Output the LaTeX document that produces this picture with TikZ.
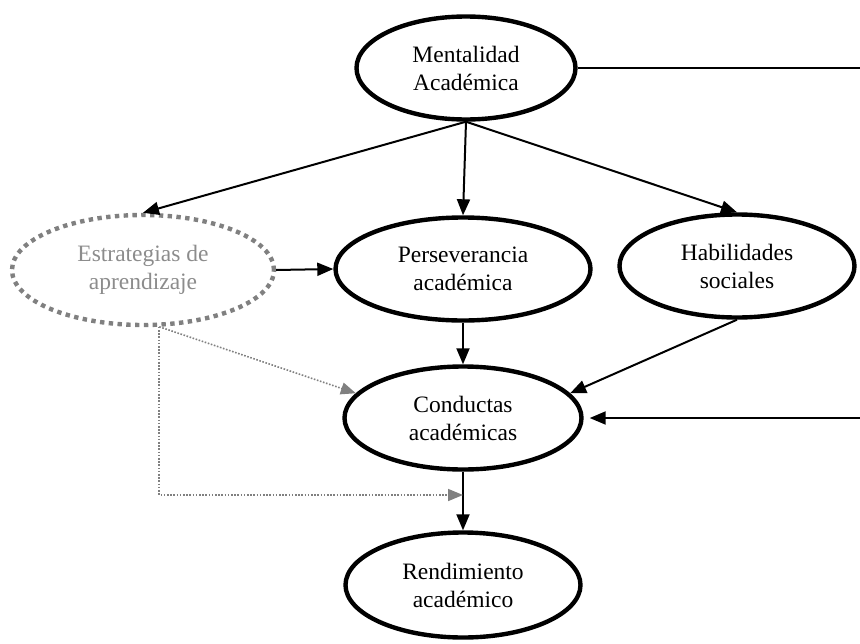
\documentclass[tikz,border=0pt]{standalone}
\usepackage{fontspec}
\setmainfont{Liberation Serif}
\usetikzlibrary{shapes.geometric, arrows.meta}

\definecolor{dotgray}{RGB}{128,128,128}
\definecolor{txtgray}{RGB}{140,140,140}

\begin{document}
\begin{tikzpicture}[x=1pt, y=-1pt,
    concept/.style={ellipse, draw, line width=4.4pt, inner sep=0pt, align=center,
                    font=\fontsize{23.5}{28}\selectfont},
    optional/.style={concept, draw=dotgray, text=txtgray, dash pattern=on 4.4pt off 4.4pt},
    link/.style={line width=2pt, -{Triangle[length=16pt, width=13pt]}},
    weak/.style={draw=dotgray, line width=1.6pt, dash pattern=on 1.6pt off 1.6pt,
                 -{Triangle[length=15pt, width=12pt, fill=dotgray]}}]
    % Frame
    \useasboundingbox (0,0) rectangle (860,643);  % Keeps the margins of the page

    % Nodes
    \node[concept, minimum width=219, minimum height=103] (ment) at (466,68) {Mentalidad\\Académica};  % Top concept
    \node[optional, minimum width=262, minimum height=110] (estr) at (143,270) {Estrategias de\\aprendizaje};  % Dotted grey concept
    \node[concept, minimum width=255, minimum height=103] (pers) at (463,269) {Perseverancia\\académica};  % Middle concept
    \node[concept, minimum width=235, minimum height=103] (hab) at (737,266) {Habilidades\\sociales};  % Right concept
    \node[concept, minimum width=237, minimum height=103] (cond) at (463,418) {Conductas\\académicas};  % Lower concept
    \node[concept, minimum width=235, minimum height=105] (rend) at (463,585) {Rendimiento\\académico};  % Bottom concept

    % Free ends at the right border
    \coordinate (outA) at (860,68);  % End of the line leaving the top concept
    \coordinate (outB) at (860,418);  % Start of the arrow entering the lower concept
    \coordinate (join) at (463,495);  % Point on the bottom arrow

    % Connections
    \draw[link] (ment.south) -- (estr.north);  % Mentalidad to Estrategias
    \draw[link] (ment.south) -- (pers.north);  % Mentalidad to Perseverancia
    \draw[link] (ment.south) -- (hab.north);  % Mentalidad to Habilidades
    \draw[line width=2pt] (ment.east) -- (outA);  % Line out to the right
    \draw[link] (estr.east) -- (pers.west);  % Estrategias to Perseverancia
    \draw[link] (pers.south) -- (cond.north);  % Perseverancia to Conductas
    \draw[link] (hab.south) -- (cond.13);  % Habilidades to Conductas
    \draw[link] (outB) -- ([xshift=6pt]cond.east);  % Arrow in from the right
    \draw[link] (cond.south) -- (rend.north);  % Conductas to Rendimiento
    \draw[weak] (estr.-74) -- (cond.167);  % Estrategias to Conductas
    \draw[weak] (estr.-74) |- (join);  % Estrategias to the bottom arrow
\end{tikzpicture}
\end{document}
